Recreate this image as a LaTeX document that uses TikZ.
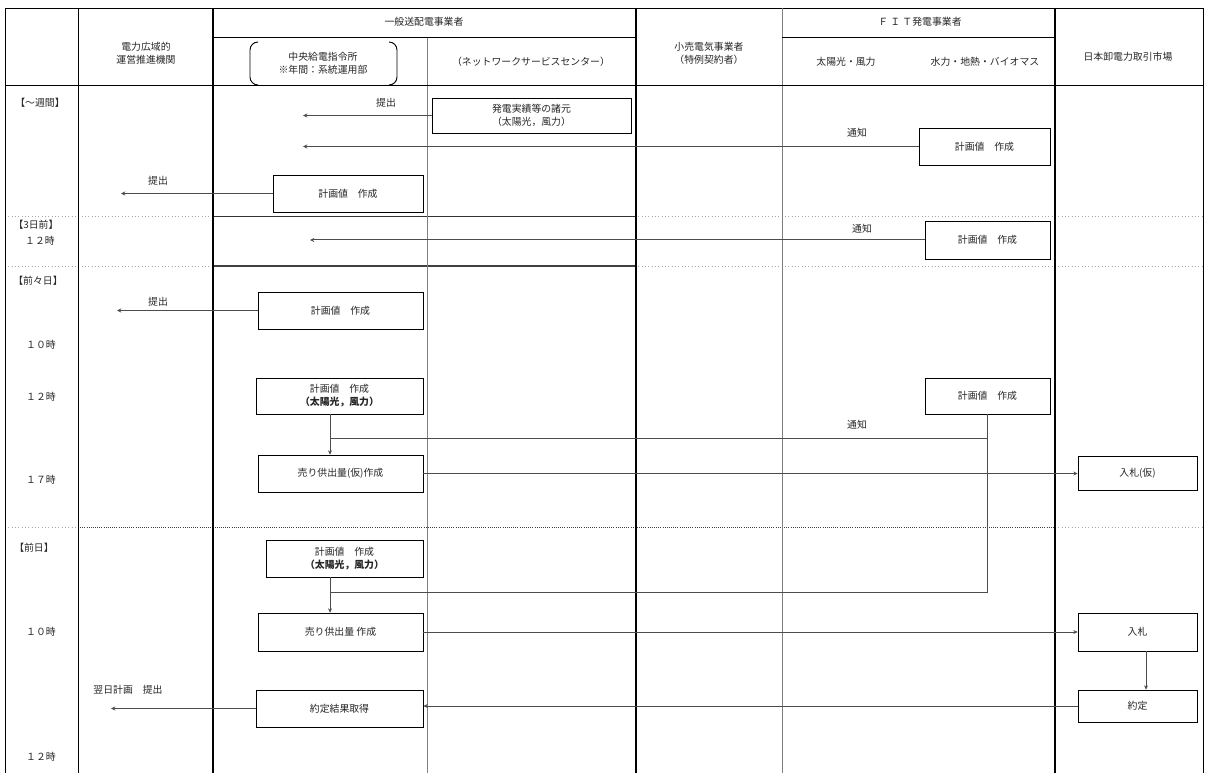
\documentclass[tikz,border=0pt]{standalone}
\usepackage{fontspec}
\newfontfamily\jp{Noto Sans CJK JP}
\usetikzlibrary{arrows.meta,calc}
\begin{document}
\begin{tikzpicture}[x=0.75pt,y=-0.75pt,
  txt/.style={font=\jp\fontsize{7.4}{9.8}\selectfont, align=center, inner sep=0pt, text=black!85},
  box/.style={txt, draw=black, line width=0.6pt},
  sz/.style n args={2}{minimum width=#1*0.75pt, minimum height=#2*0.75pt},
  conn/.style={draw=black!70, line width=0.75pt},
  arr/.style={conn, -{Stealth[length=3.2pt,width=3pt]}},
  frame/.style={draw=black, line width=0.7pt},
  heavy/.style={draw=black, line width=1.5pt},
  thin col/.style={draw=black!50, line width=0.5pt},
  lightdot/.style={draw=black!35, line width=0.5pt, dotted},
  darkdot/.style={draw=black!75, line width=0.6pt, densely dotted}
]
\useasboundingbox (0,0) rectangle (1205,773);
\fill[white] (0,0) rectangle (1205,773);

% ---- row separators ----
\draw[lightdot] (5,216) -- (1203,216);
\draw[lightdot] (5,266) -- (1203,266);
\draw[lightdot] (5,527) -- (78,527);
\draw[darkdot] (78,527) -- (1055,527);
\draw[lightdot] (1055,527) -- (1203,527);
\draw[draw=black!80, line width=0.6pt] (213,216) -- (636,216);
\draw[draw=black!75, line width=1.4pt] (213,266) -- (636,266);

% ---- table frame ----
\draw[frame] (5,773) -- (5,8) -- (1203,8) -- (1203,773);
\draw[frame] (78,8) -- (78,773);
\draw[heavy] (213,8) -- (213,773);
\draw[heavy] (636,8) -- (636,773);
\draw[draw=black, line width=1pt] (1055,8) -- (1055,773);
\draw[thin col] (427,37) -- (427,773);
\draw[thin col] (782,8) -- (782,773);
\draw[frame] (213,37) -- (636,37);
\draw[frame] (782,37) -- (1055,37);
\draw[frame] (5,85) -- (1203,85);

% ---- header ----
\node[txt] (hOcc) at (146,53) {電力広域的\\運営推進機関};
\node[txt] (hTD) at (424,22) {一般送配電事業者};
\node[txt] (hCen) at (323,63) {中央給電指令所\\※年間：系統運用部};
\draw[draw=black, line width=0.7pt] (258,42) to[out=180,in=90] (250,50) -- (250,77) to[out=-90,in=180] (258,85);
\draw[draw=black, line width=0.7pt] (389,42) to[out=0,in=90] (397,50) -- (397,77) to[out=-90,in=0] (389,85);
\node[txt] (hNet) at (531,62) {（ネットワークサービスセンター）};
\node[txt] (hRet) at (709,53) {小売電気事業者\\（特例契約者）};
\node[txt] (hFIT) at (920,22) {Ｆ Ｉ Ｔ発電事業者};
\node[txt] (hSol) at (846,62) {太陽光・風力};
\node[txt] (hHyd) at (985,62) {水力・地熱・バイオマス};
\node[txt] (hJEP) at (1128,57) {日本卸電力取引市場};

% ---- time labels ----
\node[txt] (tW) at (40,103) {【～週間】};
\node[txt] (t3) at (36,225) {【3日前】};
\node[txt] (t3h) at (40,241) {１２時};
\node[txt] (t2) at (38,281) {【前々日】};
\node[txt] (t2a) at (41,345) {１０時};
\node[txt] (t2b) at (41,397) {１２時};
\node[txt] (t2c) at (41,480) {１７時};
\node[txt] (t1) at (34,548) {【前日】};
\node[txt] (t1a) at (41,632) {１０時};
\node[txt] (t1b) at (41,757) {１２時};

% ---- boxes ----
\node[box, sz={199}{35}] (b1) at (531.5,115.5) {発電実績等の諸元\\（太陽光，風力）};
\node[box, sz={131}{37}] (b2) at (984.5,146.5) {計画値　作成};
\node[box, sz={150}{37}] (b3) at (348,193.5) {計画値　作成};
\node[box, sz={125}{38}] (b4) at (987.5,240) {計画値　作成};
\node[box, sz={165}{37}] (b5) at (340.5,310.5) {計画値　作成};
\node[box, sz={167}{36}] (b6) at (339.5,396) {計画値　作成\\\textbf{（太陽光，風力）}};
\node[box, sz={125}{36}] (b7) at (987.5,396) {計画値　作成};
\node[box, sz={165}{37}] (b8) at (340.5,473.5) {売り供出量(仮)作成};
\node[box, sz={119}{34}] (b9) at (1137.5,473) {入札(仮)};
\node[box, sz={157}{37}] (b10) at (344.5,558.5) {計画値　作成\\\textbf{（太陽光，風力）}};
\node[box, sz={165}{38}] (b11) at (340.5,632) {売り供出量 作成};
\node[box, sz={119}{38}] (b12) at (1137.5,632) {入札};
\node[box, sz={119}{32}] (b13) at (1137.5,706) {約定};
\node[box, sz={167}{37}] (b14) at (339.5,708.5) {約定結果取得};

% ---- free ends ----
\coordinate (e1) at (303,0);
\coordinate (e2) at (303,0);
\coordinate (e3) at (121,0);
\coordinate (e4) at (310,0);
\coordinate (e5) at (117,0);
\coordinate (e14) at (111,0);
\coordinate (vx) at (330,0);
\coordinate (n1) at (330,438);
\coordinate (n2) at (330,592);
\coordinate (mx) at (1146,0);

% ---- connectors ----
\draw[arr] (b1.west) -- (b1.west -| e1);
\node[txt] (l1) at (386,103) {提出};
\draw[arr] (b2.west) -- (b2.west -| e2);
\node[txt] (l2) at (857,133) {通知};
\draw[arr] (b3.west) -- (b3.west -| e3);
\node[txt] (l3) at (158,181) {提出};
\draw[arr] (b4.west) -- (b4.west -| e4);
\node[txt] (l4) at (862,229) {通知};
\draw[arr] (b5.west) -- (b5.west -| e5);
\node[txt] (l5) at (158,302) {提出};

\draw[arr] (b6.south -| vx) -- (b8.north -| vx);
\draw[conn] (b7.south) -- (b7.south |- n2) -- (n2);
\draw[conn] (b7.south |- n1) -- (n1);
\node[txt] (l6) at (857,425) {通知};
\draw[arr] (b8.east) -- (b8.east -| b9.west);

\draw[arr] (b10.south -| vx) -- (b11.north -| vx);
\draw[arr] (b11.east) -- (b11.east -| b12.west);
\draw[arr] (b12.south -| mx) -- (b13.north -| mx);
\draw[arr] (b13.west) -- (b13.west -| b14.east);
\draw[arr] (b14.west) -- (b14.west -| e14);
\node[txt] (l7) at (128,690) {翌日計画　提出};
\end{tikzpicture}
\end{document}
